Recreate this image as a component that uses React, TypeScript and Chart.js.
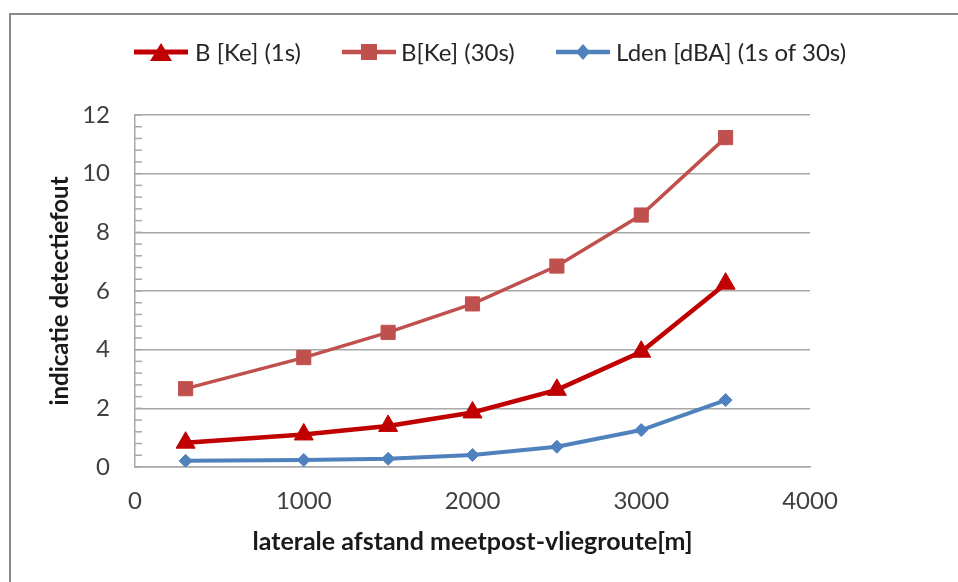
import React, { useEffect, useRef } from 'react';
import { Chart, registerables } from 'chart.js';

Chart.register(...registerables);

// ---- data ----
const distances = [300, 1000, 1500, 2000, 2500, 3000, 3500];
const b1s = [0.83, 1.11, 1.4, 1.86, 2.63, 3.93, 6.25];
const b30s = [2.67, 3.73, 4.59, 5.56, 6.85, 8.59, 11.23];
const lden = [0.21, 0.24, 0.28, 0.41, 0.69, 1.26, 2.28];
const seriesLabels = ['B [Ke] (1s)', 'B[Ke] (30s)', 'Lden [dBA] (1s of 30s)'];
const seriesColors = ['#C00000', '#C0504D', '#4F81BD'];
const xTitle = 'laterale afstand meetpost-vliegroute[m]';
const yTitle = 'indicatie detectiefout';
const xMin = 0, xMax = 4000, xStep = 1000;
const yMin = 0, yMax = 12, yStep = 2;

const FONT = 'Lato, "Noto Sans", sans-serif';

const minorTicks = {
  id: 'minorTicks',
  afterDraw(chart: any) {
    const y = chart.scales.y;
    const ctx = chart.ctx;
    const left = chart.chartArea.left;
    ctx.save();
    ctx.strokeStyle = '#a8a8a8';
    ctx.lineWidth = 1.5;
    for (let i = 0; i <= 30; i++) {
      const py = y.getPixelForValue(i * 0.4);
      ctx.beginPath();
      ctx.moveTo(left, py);
      ctx.lineTo(left + 7, py);
      ctx.stroke();
    }
    ctx.restore();
  },
};

function Icon({ kind, color }: { kind: string; color: string }) {
  let marker: any = null;
  if (kind === 'triangle') marker = <polygon points="27,1 38,19 16,19" fill={color} />;
  else if (kind === 'rect') marker = <rect x={19} y={2} width={16} height={16} fill={color} />;
  else marker = <polygon points="27,2 34,10 27,18 20,10" fill={color} />;
  return (
    <svg width={54} height={20} style={{ position: 'absolute', left: 0, top: 0 }}>
      <line x1={0} y1={10} x2={54} y2={10} stroke={color} strokeWidth={kind === 'triangle' ? 5 : 4.5} />
      {marker}
    </svg>
  );
}

export default function App() {
  const ref = useRef<HTMLCanvasElement | null>(null);
  useEffect(() => {
    const mk = (ys: number[]) => distances.map((x, i) => ({ x, y: ys[i] }));
    const chart = new Chart(ref.current as HTMLCanvasElement, {
      type: 'line',
      data: {
        datasets: [
          {
            label: seriesLabels[0], data: mk(b1s), borderColor: seriesColors[0], backgroundColor: seriesColors[0],
            borderWidth: 4.5, pointStyle: 'triangle', pointRadius: 11, pointBorderWidth: 1,
            pointBackgroundColor: seriesColors[0], pointBorderColor: seriesColors[0],
          },
          {
            label: seriesLabels[1], data: mk(b30s), borderColor: seriesColors[1], backgroundColor: seriesColors[1],
            borderWidth: 3.5, pointStyle: 'rect', pointRadius: 10, pointBorderWidth: 1,
            pointBackgroundColor: seriesColors[1], pointBorderColor: seriesColors[1],
          },
          {
            label: seriesLabels[2], data: mk(lden), borderColor: seriesColors[2], backgroundColor: seriesColors[2],
            borderWidth: 4, pointStyle: 'rectRot', pointRadius: 6.5, pointBorderWidth: 1,
            pointBackgroundColor: seriesColors[2], pointBorderColor: seriesColors[2],
          },
        ],
      },
      options: {
        animation: false,
        responsive: false,
        maintainAspectRatio: false,
        layout: { padding: { left: 40, top: 115, right: 148, bottom: 25 } },
        plugins: { legend: { display: false }, tooltip: { enabled: false } },
        scales: {
          x: {
            type: 'linear', min: xMin, max: xMax,
            ticks: {
              stepSize: xStep, color: '#404040', font: { family: FONT, size: 24 }, padding: 20,
              callback: (v: any) => String(v),
            },
            grid: { display: false, drawTicks: false },
            border: { display: true, color: '#a8a8a8', width: 1.5 },
            title: { display: true, text: xTitle, color: '#1a1a1a', font: { family: FONT, size: 25, weight: 'bold' }, padding: { top: 0, bottom: 0 } },
            afterFit: (s: any) => { s.height = 90; },
          },
          y: {
            type: 'linear', min: yMin, max: yMax,
            ticks: { stepSize: yStep, color: '#404040', font: { family: FONT, size: 24 }, padding: 25 },
            grid: { color: '#a8a8a8', lineWidth: 1.5, drawTicks: false },
            border: { display: true, color: '#a8a8a8', width: 1.5 },
            title: { display: true, text: yTitle, color: '#1a1a1a', font: { family: FONT, size: 24, weight: 'bold' }, padding: { top: 6, bottom: 0 } },
            afterFit: (s: any) => { s.width = 95; },
          },
        },
      } as any,
      plugins: [minorTicks],
    });
    return () => chart.destroy();
  }, []);

  const legendItems = [
    { icon: 134, text: 195, kind: 'triangle' },
    { icon: 342, text: 401, kind: 'rect' },
    { icon: 556, text: 616, kind: 'diamond' },
  ];

  return (
    <div style={{ position: 'fixed', left: 0, top: 0, width: 958, height: 582, background: '#fff', overflow: 'hidden' }}>
      <div style={{ position: 'absolute', left: 9, top: 13, width: 1000, height: 700, borderTop: '2px solid #8a8a8a', borderLeft: '2px solid #8a8a8a' }} />
      <canvas ref={ref} width={958} height={582} style={{ position: 'absolute', left: 0, top: 0, width: 958, height: 582 }} />
      {legendItems.map((it, i) => (
        <React.Fragment key={i}>
          <div style={{ position: 'absolute', left: it.icon, top: 42, width: 54, height: 20 }}>
            <Icon kind={it.kind} color={seriesColors[i]} />
          </div>
          <div style={{ position: 'absolute', left: it.text, top: 36, height: 32, lineHeight: '32px', fontFamily: FONT, fontSize: 24, color: '#262626', whiteSpace: 'nowrap' }}>
            {seriesLabels[i]}
          </div>
        </React.Fragment>
      ))}
    </div>
  );
}
